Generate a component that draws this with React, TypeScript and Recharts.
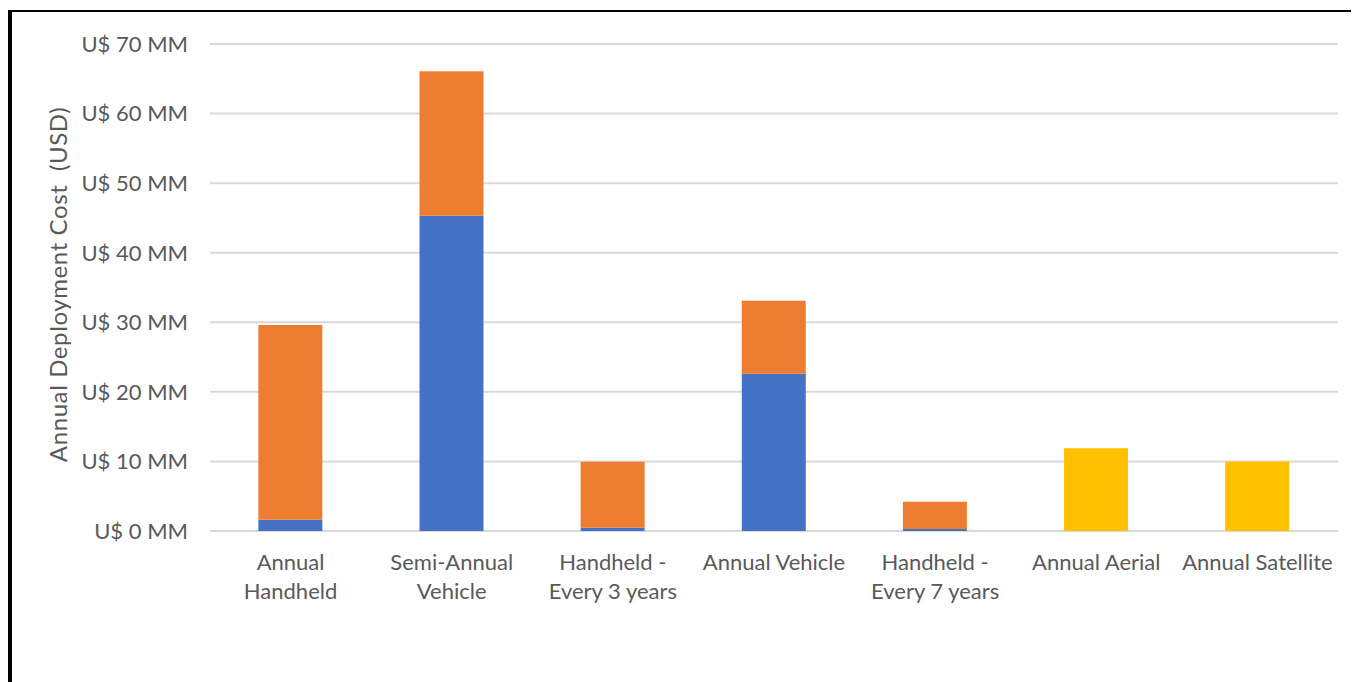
import { BarChart, Bar, XAxis, YAxis, CartesianGrid, Label } from 'recharts'

const categories = [
  'Annual\nHandheld',
  'Semi-Annual\nVehicle',
  'Handheld -\nEvery 3 years',
  'Annual Vehicle',
  'Handheld -\nEvery 7 years',
  'Annual Aerial',
  'Annual Satellite',
]
// values in US$ millions
const blueSeries = [1.6, 45.3, 0.45, 22.6, 0.3, 0, 0]
const orangeSeries = [28.0, 20.8, 9.5, 10.5, 3.9, 0, 0]
const yellowSeries = [0, 0, 0, 0, 0, 11.9, 10.0]
const yTicks = [0, 10, 20, 30, 40, 50, 60, 70]

const data = categories.map((name, i) => ({
  name,
  blue: blueSeries[i],
  orange: orangeSeries[i],
  yellow: yellowSeries[i],
}))

const FONT = 'Lato, "Open Sans", sans-serif'
const TEXT = '#595959'

function CategoryTick({ x, y, payload }: any) {
  const lines = String(payload.value).split('\n')
  return (
    <text x={x} y={y} textAnchor="middle" fill={TEXT} fontFamily={FONT} fontSize={22}>
      {lines.map((line, i) => (
        <tspan key={i} x={x} dy={i === 0 ? 25 : 29} dominantBaseline="middle">
          {line}
        </tspan>
      ))}
    </text>
  )
}

function YTitle({ viewBox }: any) {
  const cx = viewBox.x + 1
  const cy = viewBox.y + viewBox.height / 2 - 3
  return (
    <text
      x={cx}
      y={cy}
      transform={`rotate(-90, ${cx}, ${cy})`}
      textAnchor="middle"
      dominantBaseline="middle"
      fill={TEXT}
      fontFamily={FONT}
      fontSize={24}
      letterSpacing={0.6}
      style={{ whiteSpace: 'pre' }}
    >
      Annual Deployment Cost  (USD)
    </text>
  )
}

export default function App() {
  return (
    <div style={{ position: 'relative', width: 1351, height: 674, background: '#fff' }}>
      <div
        style={{
          position: 'absolute',
          left: 0,
          top: 2,
          width: 1351,
          height: 672,
          borderLeft: '4px solid #000',
          borderTop: '2px solid #000',
          boxSizing: 'border-box',
        }}
      />
      <div style={{ position: 'absolute', left: 0, top: 0 }}>
        <BarChart
          width={1351}
          height={674}
          data={data}
          margin={{ top: 36, right: 21, left: 52, bottom: 71 }}
          barCategoryGap="30%"
        >
          <CartesianGrid vertical={false} stroke="#D9D9D9" strokeWidth={2} />
          <XAxis
            dataKey="name"
            axisLine={false}
            tickLine={false}
            interval={0}
            height={80}
            tick={<CategoryTick />}
          />
          <YAxis
            width={150}
            domain={[0, 70]}
            ticks={yTicks}
            axisLine={false}
            tickLine={false}
            tickSize={0}
            tickMargin={22}
            tickFormatter={(v: number) => `U$ ${v} MM`}
            tick={{ fill: TEXT, fontFamily: FONT, fontSize: 22 }}
          >
            <Label content={<YTitle />} />
          </YAxis>
          <Bar dataKey="blue" stackId="a" fill="#4472C4" isAnimationActive={false} />
          <Bar dataKey="orange" stackId="a" fill="#ED7D31" isAnimationActive={false} />
          <Bar dataKey="yellow" stackId="a" fill="#FFC000" isAnimationActive={false} />
        </BarChart>
      </div>
    </div>
  )
}
